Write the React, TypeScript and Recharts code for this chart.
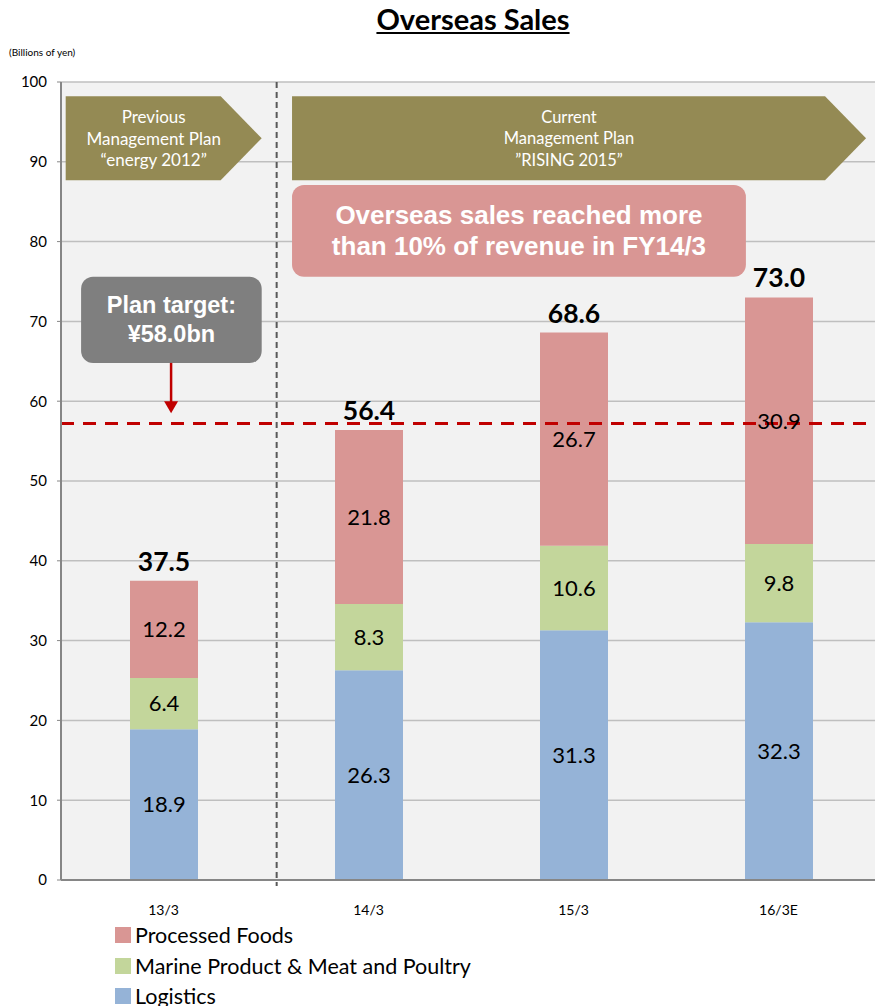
import React from "react";
import {
  BarChart,
  Bar,
  XAxis,
  YAxis,
  CartesianGrid,
  ReferenceLine,
  ReferenceArea,
  LabelList,
} from "recharts";

const categories = ["13/3", "14/3", "15/3", "16/3E"];
const logistics = [18.9, 26.3, 31.3, 32.3];
const marine = [6.4, 8.3, 10.6, 9.8];
const processed = [12.2, 21.8, 26.7, 30.9];
const totals = [37.5, 56.4, 68.6, 73.0];
const yTicks = [0, 10, 20, 30, 40, 50, 60, 70, 80, 90, 100];
const seriesNames = ["Processed Foods", "Marine Product & Meat and Poultry", "Logistics"];
const planTargetLine = 57.2;

const COLORS = {
  logistics: "#95b3d7",
  marine: "#c3d69b",
  processed: "#d99694",
  olive: "#948a54",
  gray: "#7f7f7f",
  red: "#c00000",
};

const data = categories.map((c, i) => ({
  name: c,
  logistics: logistics[i],
  marine: marine[i],
  processed: processed[i],
  total: totals[i],
}));

const FONT = "Lato, 'Open Sans', sans-serif";
const ARIAL = "'Liberation Sans', Arial, sans-serif";

// Helper: the ReferenceArea spans bands [b1..b2]; f1/f2 are offsets in band units from b1's band start
type Draw = (x: number, y: number, w: number, h: number) => React.ReactNode;
const bandShape = (nBands: number, f1: number, f2: number, draw: Draw) => (props: any) => {
  const { x, y, width, height } = props;
  const bw = width / nBands;
  const rx = x + f1 * bw;
  const rw = (f2 - f1) * bw;
  return <g>{draw(rx, y, rw, height)}</g>;
};

const drawArrow = (lines: string[], fontSize: number): Draw => (x, y, width, height) => {
  const tip = 41;
  const pts = [
    [x, y],
    [x + width - tip, y],
    [x + width, y + height / 2],
    [x + width - tip, y + height],
    [x, y + height],
  ]
    .map((p) => p.join(","))
    .join(" ");
  const cx = x + (width - 20) / 2;
  const cy = y + height / 2;
  const lh = 21.5;
  return (
    <>
      <polygon points={pts} fill={COLORS.olive} />
      {lines.map((l, i) => (
        <text
          key={i}
          x={cx}
          y={cy + (i - (lines.length - 1) / 2) * lh}
          textAnchor="middle"
          dominantBaseline="central"
          fill="#fff"
          fontSize={fontSize}
          fontFamily={FONT}
        >
          {l}
        </text>
      ))}
    </>
  );
};

const drawBox = (lines: string[], fill: string, fontSize: number, lh: number): Draw => (x, y, width, height) => {
  const cx = x + width / 2;
  const cy = y + height / 2;
  return (
    <>
      <rect x={x} y={y} width={width} height={height} rx={12} ry={12} fill={fill} />
      {lines.map((l, i) => (
        <text
          key={i}
          x={cx}
          y={cy + (i - (lines.length - 1) / 2) * lh}
          textAnchor="middle"
          dominantBaseline="central"
          fill="#fff"
          fontSize={fontSize}
          fontWeight="bold"
          fontFamily={ARIAL}
        >
          {l}
        </text>
      ))}
    </>
  );
};

const drawDownArrow: Draw = (x, y, width, height) => {
  const cx = x + width / 2;
  const bottom = y + height;
  return (
    <>
      <line x1={cx} y1={y} x2={cx} y2={bottom - 10} stroke={COLORS.red} strokeWidth={2.5} />
      <polygon points={`${cx - 7},${bottom - 12} ${cx + 7},${bottom - 12} ${cx},${bottom}`} fill={COLORS.red} />
    </>
  );
};

const drawVDash: Draw = (x, y, width, height) => (
  <line x1={x} y1={y} x2={x} y2={y + height + 6} stroke="#595959" strokeWidth={2} strokeDasharray="6 4" />
);

const fmt = (v: any) => Number(v).toFixed(1);

export default function App() {
  const legendColors = [COLORS.processed, COLORS.marine, COLORS.logistics];
  return (
    <div
      style={{
        position: "absolute",
        left: 0,
        top: 0,
        width: 875,
        height: 1006,
        overflow: "hidden",
        background: "#fff",
        fontFamily: FONT,
      }}
    >
      <div
        style={{
          position: "absolute",
          left: 0,
          width: 946,
          top: 1,
          textAlign: "center",
          fontFamily: FONT,
          fontWeight: "bold",
          fontSize: 29,
          textDecoration: "underline",
          color: "#000",
        }}
      >
        Overseas Sales
      </div>
      <div style={{ position: "absolute", left: 9, top: 46, fontSize: 10, fontFamily: FONT, color: "#000" }}>
        (Billions of yen)
      </div>
      <div style={{ position: "absolute", left: 0, top: 0 }}>
        <BarChart
          width={890}
          height={1006}
          data={data}
          margin={{ top: 82, right: 9, left: 0, bottom: 96 }}
          barSize={68}
        >
          <CartesianGrid vertical={false} stroke="#bfbfbf" strokeWidth={1.5} fill="#f2f2f2" />
          <XAxis
            dataKey="name"
            height={30}
            tickLine={false}
            axisLine={{ stroke: "#868686", strokeWidth: 2 }}
            tick={{ fill: "#000", fontSize: 14, fontFamily: FONT }}
            tickMargin={19}
          />
          <YAxis
            width={61}
            domain={[0, 100]}
            ticks={yTicks}
            interval={0}
            axisLine={{ stroke: "#868686", strokeWidth: 2 }}
            tickLine={{ stroke: "#868686" }}
            tickSize={4}
            tickMargin={10}
            tick={{ fill: "#000", fontSize: 15, fontFamily: FONT }}
          />
          <Bar dataKey="logistics" stackId="a" fill={COLORS.logistics} isAnimationActive={false}>
            <LabelList dataKey="logistics" position="center" formatter={fmt} fill="#000" fontSize={22} fontFamily={FONT} />
          </Bar>
          <Bar dataKey="marine" stackId="a" fill={COLORS.marine} isAnimationActive={false}>
            <LabelList dataKey="marine" position="center" formatter={fmt} fill="#000" fontSize={22} fontFamily={FONT} />
          </Bar>
          <Bar dataKey="processed" stackId="a" fill={COLORS.processed} isAnimationActive={false}>
            <LabelList dataKey="processed" position="center" formatter={fmt} fill="#000" fontSize={22} fontFamily={FONT} />
            <LabelList
              dataKey="total"
              position="top"
              offset={10}
              formatter={fmt}
              fill="#000"
              fontSize={26.5}
              fontWeight="bold"
              fontFamily={FONT}
            />
          </Bar>
          <ReferenceArea
            x1={categories[1]}
            x2={categories[1]}
            y1={0}
            y2={100}
            shape={bandShape(1, 0.052, 0.052, drawVDash)}
          />
          <ReferenceLine y={planTargetLine} stroke={COLORS.red} strokeWidth={3} strokeDasharray="13 9" />
          <ReferenceArea
            x1={categories[0]}
            x2={categories[0]}
            y1={87.7}
            y2={98.2}
            shape={bandShape(1, 0.023, 0.979, drawArrow(["Previous", "Management Plan", "\u201Cenergy 2012\u201D"], 17))}
          />
          <ReferenceArea
            x1={categories[1]}
            x2={categories[3]}
            y1={87.7}
            y2={98.2}
            shape={bandShape(3, 0.127, 2.927, drawArrow(["Current", "Management Plan", "\u201DRISING 2015\u201D"], 16.5))}
          />
          <ReferenceArea
            x1={categories[1]}
            x2={categories[3]}
            y1={75.6}
            y2={87.1}
            shape={bandShape(
              3,
              0.127,
              2.341,
              drawBox(["Overseas sales reached more", "than 10% of revenue in FY14/3"], COLORS.processed, 26, 31)
            )}
          />
          <ReferenceArea
            x1={categories[0]}
            x2={categories[0]}
            y1={64.8}
            y2={75.6}
            shape={bandShape(1, 0.098, 0.979, drawBox(["Plan target:", "\u00A558.0bn"], COLORS.gray, 23.5, 29))}
          />
          <ReferenceArea
            x1={categories[0]}
            x2={categories[0]}
            y1={58.5}
            y2={64.8}
            shape={bandShape(1, 0.497, 0.577, drawDownArrow)}
          />
        </BarChart>
      </div>
      <div style={{ position: "absolute", left: 115, top: 920 }}>
        {seriesNames.map((n, i) => (
          <div
            key={n}
            style={{ display: "flex", alignItems: "center", height: 30.5, fontSize: 21.5, color: "#000", fontFamily: FONT }}
          >
            <span
              style={{ display: "inline-block", width: 16, height: 16, background: legendColors[i], marginRight: 4 }}
            />
            {n}
          </div>
        ))}
      </div>
    </div>
  );
}
